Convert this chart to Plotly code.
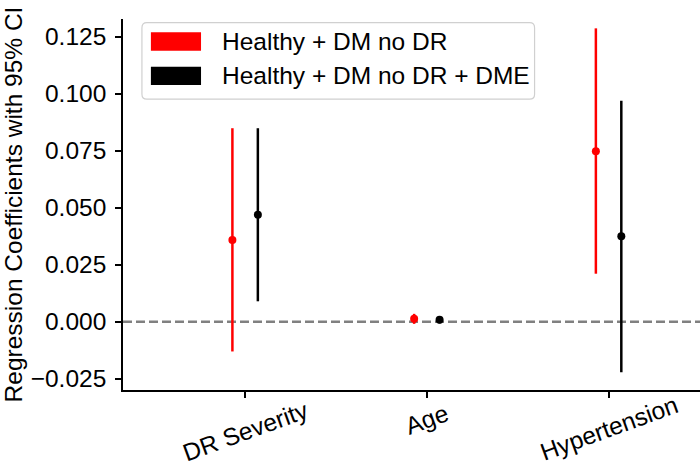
import re
import plotly.graph_objects as go

# ---------------- data ----------------
categories = ["DR Severity", "Age", "Hypertension"]
series_names = ["Healthy + DM no DR", "Healthy + DM no DR + DME"]
series_colors = ["#ff0000", "#000000"]

coef_a = [0.0359, 0.0014, 0.0748]
ci_low_a = [-0.0130, -0.0009, 0.0211]
ci_high_a = [0.0849, 0.0035, 0.1287]

coef_b = [0.0470, 0.0009, 0.0375]
ci_low_b = [0.0090, -0.0007, -0.0221]
ci_high_b = [0.0849, 0.0022, 0.0969]

y_tick_vals = [-0.025, 0.0, 0.025, 0.050, 0.075, 0.100, 0.125]

# ---------------- layout constants ----------------
W, H = 700, 469
ML, MR, MT, MB = 121, 0, 19, 78.5
PW, PH = W - ML - MR, H - MT - MB
FONT = "Liberation Sans, Arial, sans-serif"
FS = 24.5
offset = 0.07


def px2x(px):
    return (px - ML) / PW


def py2y(py):
    return (H - MB - py) / PH


series = [
    (coef_a, ci_low_a, ci_high_a, -offset),
    (coef_b, ci_low_b, ci_high_b, +offset),
]

fig = go.Figure()
for (coef, lo, hi, off), name, col in zip(series, series_names, series_colors):
    xs = [i + off for i in range(len(categories))]
    fig.add_trace(go.Scatter(
        x=xs, y=coef, mode="markers", name=name, showlegend=False,
        marker=dict(color=col, size=8),
        error_y=dict(type="data", symmetric=False,
                     array=[h - c for h, c in zip(hi, coef)],
                     arrayminus=[c - l for c, l in zip(coef, lo)],
                     color=col, thickness=2.5, width=0),
    ))

# zero reference line
fig.add_shape(type="line", xref="paper", yref="y", x0=0, x1=1, y0=0, y1=0,
              line=dict(color="#808080", width=2.6, dash="9px,4px"), layer="below")

# x tick labels (rotated, centered on the tick)
label_center_py = [432, 420, 429]
for i, (cat, cy) in enumerate(zip(categories, label_center_py)):
    fig.add_annotation(x=i, xref="x", y=py2y(cy), yref="paper", text=cat,
                       textangle=-20, showarrow=False, xanchor="center", yanchor="middle",
                       font=dict(family=FONT, size=FS, color="black"))

# legend box
lx0, lx1, ly0, ly1, r = 140, 534, 22.7, 99.3, 5
path = (f"M {lx0 + r},{ly0} L {lx1 - r},{ly0} Q {lx1},{ly0} {lx1},{ly0 + r} "
        f"L {lx1},{ly1 - r} Q {lx1},{ly1} {lx1 - r},{ly1} L {lx0 + r},{ly1} "
        f"Q {lx0},{ly1} {lx0},{ly1 - r} L {lx0},{ly0 + r} Q {lx0},{ly0} {lx0 + r},{ly0} Z")


def conv(m):
    a, b = float(m.group(1)), float(m.group(2))
    return f"{px2x(a):.5f},{py2y(b):.5f}"


path_paper = re.sub(r"(-?[\d.]+),(-?[\d.]+)", conv, path)
fig.add_shape(type="path", xref="paper", yref="paper", path=path_paper,
              fillcolor="rgba(255,255,255,0.8)", line=dict(color="#d0d0d0", width=1.2))

patch_rows = [(32.3, 50.7), (66.7, 85.0)]
for (y0, y1), name, col in zip(patch_rows, series_names, series_colors):
    fig.add_shape(type="rect", xref="paper", yref="paper",
                  x0=px2x(149), x1=px2x(199.3), y0=py2y(y1), y1=py2y(y0),
                  fillcolor=col, line=dict(width=0))
    fig.add_annotation(x=px2x(218.3), xref="paper", y=py2y((y0 + y1) / 2), yref="paper",
                       text=name, showarrow=False, xanchor="left", yanchor="middle",
                       font=dict(family=FONT, size=FS, color="black"))

fig.update_layout(
    width=W, height=H,
    margin=dict(l=ML, r=MR, t=MT, b=MB, pad=0),
    paper_bgcolor="white", plot_bgcolor="white",
    font=dict(family=FONT, size=FS, color="black"),
    showlegend=False,
    xaxis=dict(range=[-0.672, 2.503], tickvals=list(range(len(categories))),
               showticklabels=False, ticks="outside", ticklen=6, tickwidth=1.5,
               tickcolor="black", showline=True, linecolor="black", linewidth=1.6,
               showgrid=False, zeroline=False),
    yaxis=dict(range=[-0.0299, 0.1328], tickvals=y_tick_vals, tickformat=".3f",
               ticks="outside", ticklen=6, tickwidth=1.5, tickcolor="black",
               showline=True, linecolor="black", linewidth=1.6,
               showgrid=False, zeroline=False, ticklabelstandoff=4,
               tickfont=dict(family=FONT, size=FS, color="black"),
               title=dict(text="Regression Coefficients with 95% CI", standoff=14,
                          font=dict(family=FONT, size=FS, color="black"))),
)

fig.write_html("out.html", config={"displayModeBar": False},
               post_script="document.body.style.margin='0';")
